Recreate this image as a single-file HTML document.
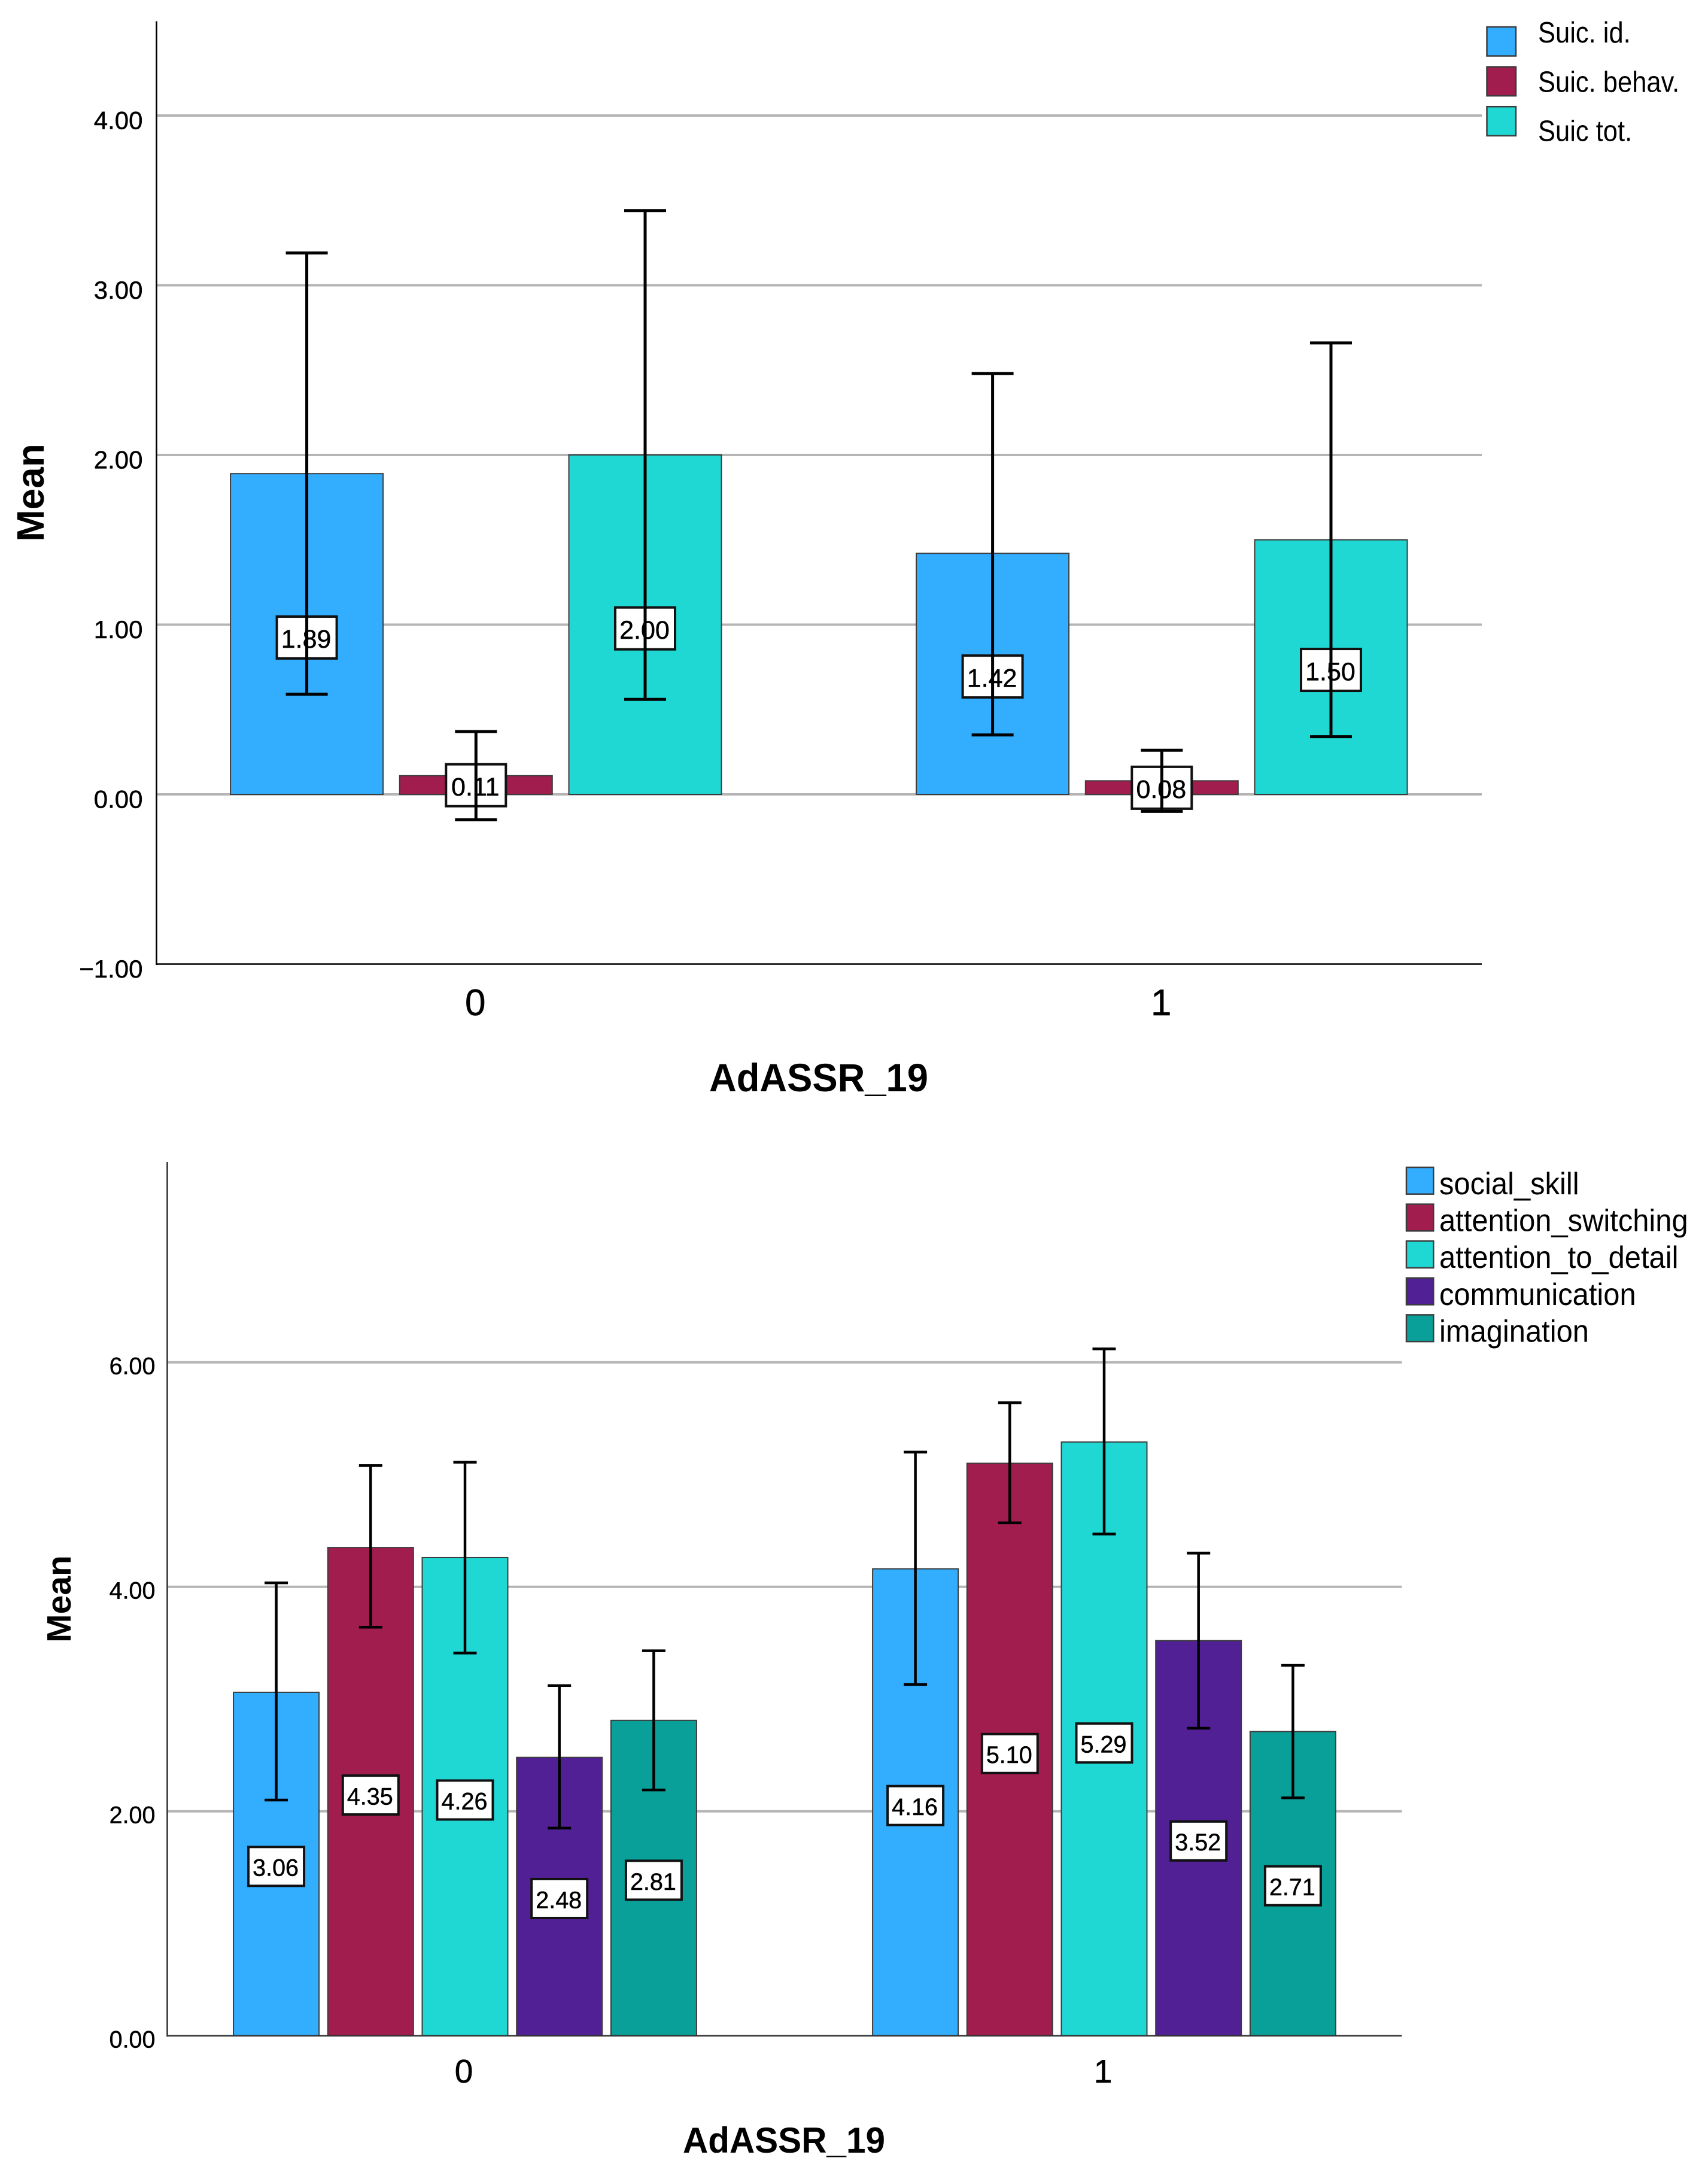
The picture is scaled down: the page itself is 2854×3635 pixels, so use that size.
<!DOCTYPE html>
<html lang="en">
<head>
<meta charset="utf-8">
<title>Mean scores by AdASSR_19</title>
<style>
html,body{margin:0;padding:0;background:#fff;}
svg{display:block;position:absolute;left:0;top:0;}
text{font-family:"Liberation Sans",Arial,sans-serif;fill:#000;}
</style>
</head>
<body>
<svg id="figure" xmlns="http://www.w3.org/2000/svg" width="2854" height="3635" viewBox="0 0 2854 3635">
  <rect x="0" y="0" width="2854" height="3635" fill="#fff"/>
  <g id="chart1"></g>
  <g id="chart2"></g>
  <text transform="translate(73,823) rotate(-90)" text-anchor="middle" font-size="64" font-weight="700">Mean</text>
  <text x="1368" y="1823" text-anchor="middle" font-size="66" font-weight="700" textLength="366" lengthAdjust="spacingAndGlyphs">AdASSR_19</text>
  <text transform="translate(118,2671) rotate(-90)" text-anchor="middle" font-size="57" font-weight="700">Mean</text>
  <text x="1310" y="3596" text-anchor="middle" font-size="60" font-weight="700" textLength="338" lengthAdjust="spacingAndGlyphs">AdASSR_19</text>
</svg>
<script>
// ---------- Chart 1 data ----------
const c1Categories = ["0", "1"];
const c1SeriesNames = ["Suic. id.", "Suic. behav.", "Suic tot."];
const c1SuicId = [1.89, 1.42];
const c1SuicBehav = [0.11, 0.08];
const c1SuicTot = [2.00, 1.50];
const c1SuicIdLow = [0.59, 0.35];
const c1SuicIdHigh = [3.19, 2.48];
const c1SuicBehavLow = [-0.15, -0.10];
const c1SuicBehavHigh = [0.37, 0.26];
const c1SuicTotLow = [0.56, 0.34];
const c1SuicTotHigh = [3.44, 2.66];
const c1TickValues = [-1, 0, 1, 2, 3, 4];
const c1TickLabels = ["\u22121.00", "0.00", "1.00", "2.00", "3.00", "4.00"];

// ---------- Chart 2 data ----------
const c2Categories = ["0", "1"];
const c2SeriesNames = ["social_skill", "attention_switching", "attention_to_detail", "communication", "imagination"];
const c2Social = [3.06, 4.16];
const c2Switching = [4.35, 5.10];
const c2Detail = [4.26, 5.29];
const c2Communication = [2.48, 3.52];
const c2Imagination = [2.81, 2.71];
const c2SocialLow = [2.10, 3.13];
const c2SocialHigh = [4.035, 5.20];
const c2SwitchingLow = [3.64, 4.57];
const c2SwitchingHigh = [5.08, 5.64];
const c2DetailLow = [3.41, 4.47];
const c2DetailHigh = [5.11, 6.12];
const c2CommunicationLow = [1.85, 2.74];
const c2CommunicationHigh = [3.12, 4.30];
const c2ImaginationLow = [2.19, 2.12];
const c2ImaginationHigh = [3.43, 3.30];
const c2TickValues = [0, 2, 4, 6];
const c2TickLabels = ["0.00", "2.00", "4.00", "6.00"];

const palette = ["#33aeff", "#a11d4e", "#1fd8d4", "#512094", "#0aa09a"];
const SVG_NS = "http://www.w3.org/2000/svg";

function make(tag, parent, attrs, content) {
  const el = document.createElementNS(SVG_NS, tag);
  for (const k in attrs) el.setAttribute(k, attrs[k]);
  if (content !== undefined) el.textContent = content;
  parent.appendChild(el);
  return el;
}

function drawChart(root, s) {
  const y = v => s.zeroY - v * s.unit;
  const groupX = i => s.groupStart + i * s.groupStep;
  const barX = (i, j) => groupX(i) + (j - (s.values.length - 1) / 2) * s.barStep;
  let el;

  // gridlines
  s.tickValues.forEach(v => {
    if (v === s.axisValue) return;
    el = make("line", root, {x1: s.axisX, x2: s.axisEnd, y1: y(v), y2: y(v), stroke: "#b5b5b5", "stroke-width": 4});
    
    
  });

  // bars and value boxes
  s.values.forEach((series, j) => {
    series.forEach((v, i) => {
      const cx = barX(i, j);
      el = make("rect", root, {x: cx - s.barW / 2, y: Math.min(y(v), y(0)), width: s.barW, height: Math.abs(y(v) - y(0)), fill: palette[j], stroke: "#3c3c3c", "stroke-width": 2});
      
      
    });
  });
  s.values.forEach((series, j) => {
    series.forEach((v, i) => {
      const cx = barX(i, j);
      const cy = y(v * s.labelRatio);
      el = make("rect", root, {x: cx - s.boxW / 2, y: cy - s.boxH / 2, width: s.boxW, height: s.boxH, fill: "#fff", stroke: "#111", "stroke-width": 4});
      
      
      el = make("text", root, {x: cx - 1, y: cy + s.boxFont * 0.4, "text-anchor": "middle", "font-size": s.boxFont, stroke: "#000", "stroke-width": 0.5}, v.toFixed(2));
      
      
    });
  });

  // error bars
  s.values.forEach((series, j) => {
    series.forEach((v, i) => {
      const cx = barX(i, j);
      const lo = y(s.low[j][i]);
      const hi = y(s.high[j][i]);
      el = make("line", root, {x1: cx, x2: cx, y1: hi, y2: lo, stroke: "#000", "stroke-width": s.stemW});
      
      
      el = make("line", root, {x1: cx - s.capW / 2, x2: cx + s.capW / 2, y1: hi, y2: hi, stroke: "#000", "stroke-width": s.capT});
      
      
      el = make("line", root, {x1: cx - s.capW / 2, x2: cx + s.capW / 2, y1: lo, y2: lo, stroke: "#000", "stroke-width": s.capT});
      
      
    });
  });

  // axes
  el = make("line", root, {x1: s.axisX, x2: s.axisX, y1: s.axisTop, y2: y(s.axisValue) + 1.5, stroke: s.axisColor, "stroke-width": 2.6});
  
  
  el = make("line", root, {x1: s.axisX, x2: s.axisEnd, y1: y(s.axisValue), y2: y(s.axisValue), stroke: s.axisColor, "stroke-width": 2.6});
  
  

  // tick labels
  s.tickValues.forEach((v, k) => {
    el = make("text", root, {x: s.tickRight, y: y(v) + s.tickDrop, "text-anchor": "end", "font-size": s.tickFont, stroke: "#000", "stroke-width": 0.5}, s.tickLabels[k]);
    
    
  });
  s.categories.forEach((c, i) => {
    el = make("text", root, {x: groupX(i) + s.catShift, y: s.catY, "text-anchor": "middle", "font-size": s.catFont, stroke: "#000", "stroke-width": 0.6}, c);
    
    
  });

  // legend
  s.names.forEach((n, j) => {
    el = make("rect", root, {x: s.legX, y: s.legY + j * s.legStep, width: s.legW, height: s.legH, fill: palette[j], stroke: "#3c3c3c", "stroke-width": 2.5});
    
    
    el = make("text", root, {transform: "translate(" + s.legTextX + "," + (s.legBase + j * s.legBaseStep) + ") scale(" + s.legScaleX + ",1)", "font-size": s.legFont}, n);
    
    
  });
}

drawChart(document.getElementById("chart1"), {
  categories: c1Categories, names: c1SeriesNames,
  values: [c1SuicId, c1SuicBehav, c1SuicTot],
  low: [c1SuicIdLow, c1SuicBehavLow, c1SuicTotLow],
  high: [c1SuicIdHigh, c1SuicBehavHigh, c1SuicTotHigh],
  tickValues: c1TickValues, tickLabels: c1TickLabels,
  zeroY: 1327, unit: 283.5, axisValue: -1,
  axisX: 261.5, axisEnd: 2476, axisTop: 35.5, axisColor: "#000",
  groupStart: 795.3, groupStep: 1146, barStep: 282.7, barW: 255,
  labelRatio: 0.489, boxW: 100, boxH: 70, boxFont: 43,
  stemW: 5, capW: 70, capT: 5,
  tickRight: 238.5, tickDrop: 22.5, tickFont: 42,
  catShift: -1, catY: 1696, catFont: 62,
  legX: 2484.5, legY: 45, legW: 48.5, legH: 48.5, legStep: 66.6,
  legTextX: 2570, legBase: 71, legBaseStep: 82.25, legFont: 49, legScaleX: 0.888
});

drawChart(document.getElementById("chart2"), {
  categories: c2Categories, names: c2SeriesNames,
  values: [c2Social, c2Switching, c2Detail, c2Communication, c2Imagination],
  low: [c2SocialLow, c2SwitchingLow, c2DetailLow, c2CommunicationLow, c2ImaginationLow],
  high: [c2SocialHigh, c2SwitchingHigh, c2DetailHigh, c2CommunicationHigh, c2ImaginationHigh],
  tickValues: c2TickValues, tickLabels: c2TickLabels,
  zeroY: 3400.7, unit: 187.5, axisValue: 0,
  axisX: 279.5, axisEnd: 2342.5, axisTop: 1941, axisColor: "#333",
  groupStart: 777, groupStep: 1068, barStep: 157.7, barW: 143,
  labelRatio: 0.493, boxW: 93, boxH: 65, boxFont: 39.5,
  stemW: 4.5, capW: 39, capT: 4.5,
  tickRight: 259.5, tickDrop: 20, tickFont: 39.5,
  catShift: -2, catY: 3479, catFont: 55,
  legX: 2350, legY: 1950, legW: 45.3, legH: 44.7, legStep: 61.6,
  legTextX: 2405, legBase: 1995, legBaseStep: 61.6, legFont: 52, legScaleX: 0.94
});
</script>
</body>
</html>
